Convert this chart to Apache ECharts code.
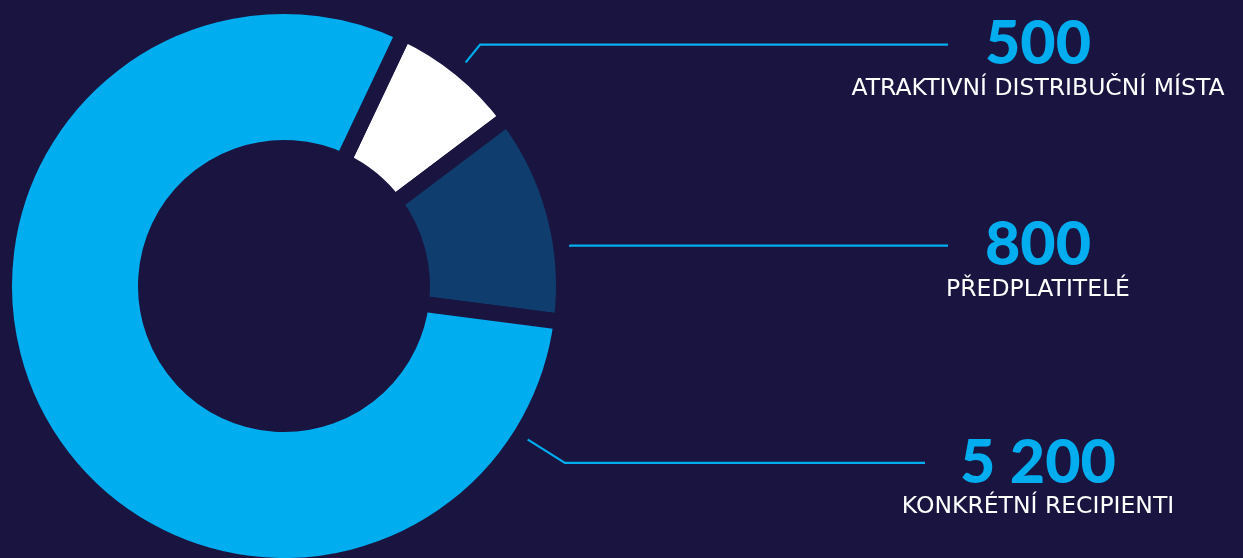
<!DOCTYPE html>
<html><head><meta charset="utf-8">
<script src="https://cdn.jsdelivr.net/npm/echarts@6/dist/echarts.min.js"></script>
<style>html,body{margin:0;padding:0;background:#191540;}#c{width:1243px;height:558px;}</style>
</head><body><div id="c"></div>
<script>
// data
const categories = ['ATRAKTIVNÍ DISTRIBUČNÍ MÍSTA', 'PŘEDPLATITELÉ', 'KONKRÉTNÍ RECIPIENTI'];
const values = [500, 800, 5200];
const valueLabels = ['500', '800', '5 200'];

// styling / layout (not data)
const colors = ['#ffffff', '#0f3d6d', '#00adef'];
const BG = '#191540';
const CX = 284, CY = 286;
const anchorAngle = [39.1, 82, 122.2];   // degrees clockwise from north where leader lines start
const anchorR0 = 284;
const elbowR = [311, 290, 332];
const lineEndX = [948, 948, 925];
const labelCenterX = 1038;

const chart = echarts.init(document.getElementById('c'), null, {renderer: 'canvas'});
const data = values.map((v, i) => ({
  value: v, name: categories[i],
  itemStyle: {color: colors[i]}
}));
function pt(angDeg, r) {
  const a = angDeg * Math.PI / 180;
  return [CX + r * Math.sin(a), CY - r * Math.cos(a)];
}
chart.setOption({
  backgroundColor: BG,
  animation: false,
  series: [{
    type: 'pie',
    center: [CX, CY],
    radius: [138, 280],
    startAngle: 64.65,
    clockwise: true,
    silent: true,
    avoidLabelOverlap: false,
    itemStyle: {borderColor: BG, borderWidth: 16},
    emphasis: {disabled: true},
    data: data,
    label: {
      show: true,
      overflow: 'none',
      width: 500,
      formatter: p => '{v|' + valueLabels[p.dataIndex] + '}\n{n|' + p.name + '}',
      rich: {
        v: {fontFamily: 'Lato', fontWeight: 900, fontSize: 61, color: '#00adef', lineHeight: 50, align: 'center'},
        n: {fontFamily: 'DejaVu Sans', fontWeight: 'normal', fontSize: 23.5, color: '#ffffff', lineHeight: 38, align: 'center'}
      }
    },
    labelLine: {show: true, lineStyle: {color: '#00adef', width: 2.2}},
    labelLayout: function (params) {
      const i = params.dataIndex;
      const p0 = pt(anchorAngle[i], anchorR0);
      const p1 = pt(anchorAngle[i], elbowR[i]);
      const p2 = [lineEndX[i], p1[1]];
      return {
        x: labelCenterX, y: p1[1] - 25,
        align: 'center', verticalAlign: 'top',
        labelLinePoints: [p0, p1, p2]
      };
    }
  }]
});
</script></body></html>
